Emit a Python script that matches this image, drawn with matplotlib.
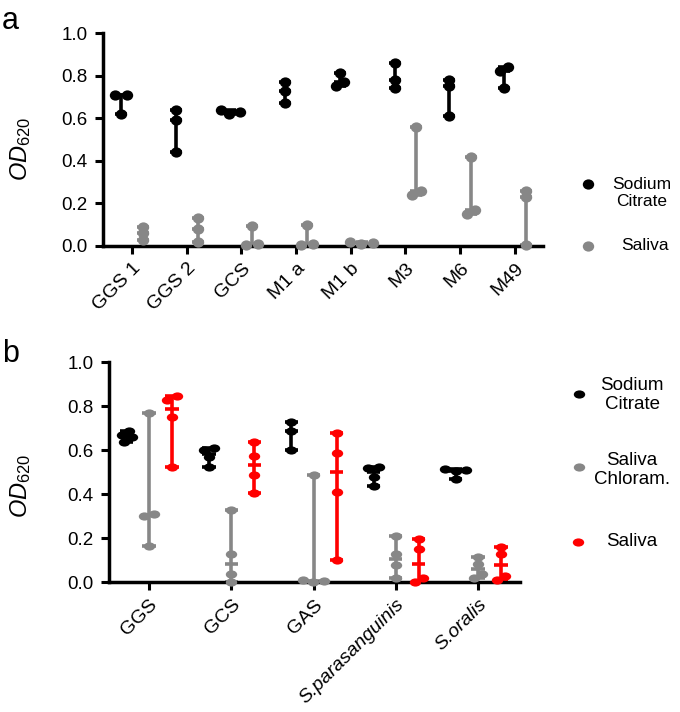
import numpy as np
import matplotlib
matplotlib.use('Agg')
import matplotlib.pyplot as plt
from matplotlib.lines import Line2D
from matplotlib.path import Path
from matplotlib.transforms import Affine2D
from matplotlib.markers import MarkerStyle

plt.rcParams['font.family'] = ['Liberation Sans', 'DejaVu Sans']
plt.rcParams['mathtext.fontset'] = 'custom'
plt.rcParams['mathtext.rm'] = 'Liberation Sans'
plt.rcParams['mathtext.it'] = 'Liberation Sans:italic'

# ---------------- data ----------------
cats_a = ['GGS 1', 'GGS 2', 'GCS', 'M1 a', 'M1 b', 'M3', 'M6', 'M49']
citrate_a = [[0.71, 0.71, 0.62], [0.64, 0.59, 0.44], [0.64, 0.63, 0.62],
             [0.77, 0.73, 0.67], [0.81, 0.77, 0.75], [0.86, 0.78, 0.74],
             [0.78, 0.75, 0.61], [0.84, 0.82, 0.74]]
saliva_a = [[0.09, 0.06, 0.03], [0.13, 0.08, 0.02], [0.095, 0.005, 0.01],
            [0.10, 0.005, 0.01], [0.02, 0.015, 0.01], [0.56, 0.26, 0.24],
            [0.42, 0.17, 0.15], [0.26, 0.23, 0.005]]

cats_b = ['GGS', 'GCS', 'GAS', 'S.parasanguinis', 'S.oralis']
citrate_b = [[0.66, 0.64, 0.67, 0.69], [0.61, 0.60, 0.57, 0.525],
             [0.73, 0.69, 0.60], [0.525, 0.52, 0.48, 0.44],
             [0.515, 0.51, 0.505, 0.47]]
chloram_b = [[0.77, 0.31, 0.30, 0.165], [0.33, 0.13, 0.04, 0.0],
             [0.49, 0.01, 0.005, 0.0], [0.21, 0.13, 0.08, 0.02],
             [0.115, 0.085, 0.04, 0.02]]
saliva_b = [[0.845, 0.83, 0.75, 0.525], [0.64, 0.575, 0.49, 0.405],
            [0.68, 0.59, 0.41, 0.10], [0.195, 0.15, 0.02, 0.0],
            [0.16, 0.13, 0.03, 0.01]]

yticks = [0.0, 0.2, 0.4, 0.6, 0.8, 1.0]

BLACK = '#000000'
GRAY = '#878787'
RED = '#ff0000'

W, H = 680, 712
fig = plt.figure(figsize=(W / 100, H / 100), dpi=100)


def ellipse_marker(ratio):
    p = Path.unit_circle()
    return MarkerStyle(Affine2D().scale(1.0, ratio).transform_path(p))


def swarm_cluster(ys, w, h):
    placed = []
    xs = np.zeros(len(ys))
    for i, y in enumerate(ys):
        cands = [0.0]
        for px, py in placed:
            dy = abs(py - y)
            if dy < h:
                dx = w * np.sqrt(1 - (dy / h) ** 2)
                cands += [px + dx, px - dx]
        cands.sort(key=abs)
        for c in cands:
            if all(((c - px) / w) ** 2 + ((y - py) / h) ** 2 >= 1 - 1e-6
                   for px, py in placed):
                xs[i] = c
                break
        placed.append((xs[i], y))
    return xs - (xs.max() + xs.min()) / 2


def swarm(vals, ypx, w, h):
    """Dodge overlapping points; each cluster of touching points is centred."""
    vals = np.asarray(vals, float)
    order = np.argsort(vals)
    ys = vals[order] * ypx
    offs = np.zeros(len(vals))
    start = 0
    for k in range(1, len(ys) + 1):
        if k == len(ys) or ys[k] - ys[k - 1] >= h:
            offs[order[start:k]] = swarm_cluster(ys[start:k], w, h)
            start = k
    return offs


def draw_group(ax, x0, vals, color, xpx, ypx, marker, ms, capw, lw, w, h):
    vals = np.asarray(vals, float)
    offs = swarm(vals, ypx, w, h) / xpx
    lo, hi, med = vals.min(), vals.max(), np.median(vals)
    ax.vlines(x0, lo, hi, color=color, lw=lw, zorder=2)
    ax.hlines([lo, hi, med], x0 - capw / 2, x0 + capw / 2, color=color,
              lw=lw, zorder=2)
    ax.plot(x0 + offs, vals, linestyle='none', marker=marker, color=color,
            ms=ms, mec='none', zorder=3, clip_on=False)


def style_axis(ax):
    for s in ['top', 'right']:
        ax.spines[s].set_visible(False)
    for s in ['left', 'bottom']:
        ax.spines[s].set_linewidth(2.5)
    ax.tick_params(axis='both', length=6, width=2.2, color='black')
    ax.tick_params(axis='y', labelsize=13.5, pad=5)
    ax.tick_params(axis='x', labelsize=14, pad=4)
    ax.set_ylim(0, 1.0)
    ax.set_yticks(yticks)
    ax.set_yticklabels([f'{v:.1f}' for v in yticks])


def set_ylabel(ax, left_px, width_px, ycoord):
    ax.set_ylabel(r'$OD_{620}$', fontsize=17)
    ax.yaxis.label.set_va('center')
    ax.yaxis.set_label_coords((21 - left_px) / width_px, ycoord)


# ---------------- panel a ----------------
axa_left, axa_right, axa_top, axa_bot = 103, 543, 33, 246
ax_a = fig.add_axes([axa_left / W, 1 - axa_bot / H,
                     (axa_right - axa_left) / W, (axa_bot - axa_top) / H])
xlim_a = (-0.53, 7.514)
ax_a.set_xlim(*xlim_a)
style_axis(ax_a)
xpx_a = (axa_right - axa_left) / (xlim_a[1] - xlim_a[0])
ypx_a = (axa_bot - axa_top)
mk_a = ellipse_marker(0.9)
for i in range(len(cats_a)):
    draw_group(ax_a, i - 0.2, citrate_a[i], BLACK, xpx_a, ypx_a, mk_a, 8.2,
               0.22, 2.6, 12, 6)
    draw_group(ax_a, i + 0.2, saliva_a[i], GRAY, xpx_a, ypx_a, mk_a, 8.2,
               0.22, 2.6, 12, 6)
ax_a.set_xticks(range(len(cats_a)))
ax_a.set_xticklabels(cats_a, rotation=45, ha='right', rotation_mode='anchor')
set_ylabel(ax_a, axa_left, axa_right - axa_left, (246 - 149) / 213)

# ---------------- panel b ----------------
axb_left, axb_right, axb_top, axb_bot = 109, 520, 362.3, 582.3
ax_b = fig.add_axes([axb_left / W, 1 - axb_bot / H,
                     (axb_right - axb_left) / W, (axb_bot - axb_top) / H])
xlim_b = (-0.486, 4.51)
ax_b.set_xlim(*xlim_b)
style_axis(ax_b)
xpx_b = (axb_right - axb_left) / (xlim_b[1] - xlim_b[0])
ypx_b = (axb_bot - axb_top)
mk_b = ellipse_marker(0.72)
for i in range(len(cats_b)):
    draw_group(ax_b, i - 0.27, citrate_b[i], BLACK, xpx_b, ypx_b, mk_b, 8.2,
               0.16, 2.6, 11, 6)
    draw_group(ax_b, i, chloram_b[i], GRAY, xpx_b, ypx_b, mk_b, 8.2,
               0.16, 2.6, 11, 6)
    draw_group(ax_b, i + 0.28, saliva_b[i], RED, xpx_b, ypx_b, mk_b, 8.2,
               0.16, 2.6, 11, 6)
ax_b.set_xticks(range(len(cats_b)))
ax_b.set_xticklabels(cats_b, rotation=45, ha='right', rotation_mode='anchor')
for lbl in ax_b.get_xticklabels()[3:]:
    lbl.set_style('italic')
set_ylabel(ax_b, axb_left, axb_right - axb_left, (582.3 - 486) / 220)

# ---------------- panel letters ----------------
fig.text(2 / W, 1 - 29 / H, 'a', fontsize=22, va='baseline', ha='left')
fig.text(2 / W, 1 - 362 / H, 'b', fontsize=22, va='baseline', ha='left')


# ---------------- legends ----------------
def legend_entry(xd, yd, xt, yt, color, label, marker, fs):
    fig.add_artist(Line2D([xd / W], [1 - yd / H], transform=fig.transFigure,
                          linestyle='none', marker=marker, color=color,
                          ms=8.2, mec='none'))
    fig.text(xt / W, 1 - yt / H, label, fontsize=fs, ha='center',
             va='center', multialignment='center', linespacing=1.15)


legend_entry(588, 184, 642, 193, BLACK, 'Sodium\nCitrate', mk_a, 12.5)
legend_entry(588, 246, 645, 246, GRAY, 'Saliva', mk_a, 12.5)

legend_entry(579, 394, 632, 395, BLACK, 'Sodium\nCitrate', mk_b, 13.5)
legend_entry(579, 467, 632, 470, GRAY, 'Saliva\nChloram.', mk_b, 13.5)
legend_entry(578, 542, 632, 542, RED, 'Saliva', mk_b, 13.5)

fig.savefig('out.png', dpi=100)
